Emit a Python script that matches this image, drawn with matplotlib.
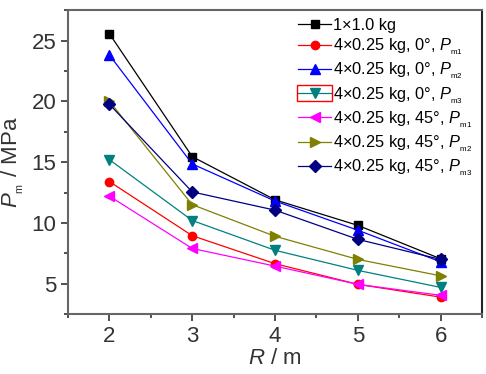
import matplotlib
matplotlib.use('Agg')
import matplotlib.pyplot as plt
from matplotlib.patches import Rectangle

plt.rcParams['font.family'] = ['Liberation Sans', 'DejaVu Sans']
plt.rcParams['mathtext.fontset'] = 'custom'
plt.rcParams['mathtext.rm'] = 'Liberation Sans'
plt.rcParams['mathtext.it'] = 'Liberation Sans:italic'

R = [2, 3, 4, 5, 6]

p_single = [25.55, 15.45, 11.9, 9.8, 7.05]
p_0_m1 = [13.4, 8.95, 6.65, 4.95, 3.9]
p_0_m2 = [23.8, 14.85, 11.8, 9.4, 6.8]
p_0_m3 = [15.2, 10.2, 7.75, 6.1, 4.7]
p_45_m1 = [12.2, 7.9, 6.45, 4.95, 4.05]
p_45_m2 = [20.0, 11.5, 8.9, 7.0, 5.65]
p_45_m3 = [19.75, 12.55, 11.05, 8.65, 7.0]

labels = ['1×1.0 kg',
          r'4×0.25 kg, 0°, $P_{{}_{\rm m1}}$',
          r'4×0.25 kg, 0°, $P_{{}_{\rm m2}}$',
          r'4×0.25 kg, 0°, $P_{{}_{\rm m3}}$',
          r'4×0.25 kg, 45°, $P_{{}_{\rm m1}}$',
          r'4×0.25 kg, 45°, $P_{{}_{\rm m2}}$',
          r'4×0.25 kg, 45°, $P_{{}_{\rm m3}}$']
series = [p_single, p_0_m1, p_0_m2, p_0_m3, p_45_m1, p_45_m2, p_45_m3]
colors = ['black', 'red', 'blue', '#008080', 'magenta', '#808000', '#000080']
markers = ['s', 'o', '^', 'v', '<', '>', 'D']
msizes = [6, 6, 7, 7, 7, 7, 6]

fig = plt.figure(figsize=(4.86, 3.74), dpi=100)
ax = fig.add_axes([0.14, 0.16, 0.852, 0.813])

for y, c, m, ms, lab in zip(series, colors, markers, msizes, labels):
    ax.plot(R, y, color=c, marker=m, markersize=ms, linewidth=0.9, label=lab)

ax.set_xlim(1.5, 6.5)
ax.set_ylim(2.5, 27.5)
ax.set_xticks(R)
ax.set_xticks([1.5, 2.5, 3.5, 4.5, 5.5, 6.5], minor=True)
ax.set_yticks([5, 10, 15, 20, 25])
ax.set_yticks([2.5, 7.5, 12.5, 17.5, 22.5, 27.5], minor=True)
ax.tick_params(which='major', direction='out', length=5, width=1.2, labelsize=16, colors='#333333')
ax.tick_params(which='minor', direction='out', length=3, width=1.2, colors='#333333')

for side in ['left', 'bottom', 'top']:
    ax.spines[side].set_color('#666666')
    ax.spines[side].set_linewidth(1.5)
ax.spines['right'].set_color('#222222')
ax.spines['right'].set_linewidth(1.5)

ax.set_xlabel(r'$R$ / m', fontsize=16, color='#333333', labelpad=1)
ax.set_ylabel(r'$P_{{}_{\rm m}}$ / MPa', fontsize=16, color='#333333', labelpad=4)

leg = ax.legend(loc='upper left', bbox_to_anchor=(0.528, 1.012), frameon=False,
                fontsize=11.8, handlelength=2.0, handletextpad=0.15,
                labelspacing=0.22, borderaxespad=0.3)

fig.canvas.draw()
h = leg.get_lines()[3]
pts = h.get_transform().transform(h.get_xydata())
inv = fig.transFigure.inverted()
x0, y0 = inv.transform((pts[:, 0].min() - 1, pts[:, 1].min() - 8))
x1, y1 = inv.transform((pts[:, 0].max() + 1, pts[:, 1].max() + 8))
fig.add_artist(Rectangle((x0, y0), x1 - x0, y1 - y0, transform=fig.transFigure,
                         fill=False, edgecolor='red', linewidth=1.0))

fig.savefig('out.png', dpi=100)
